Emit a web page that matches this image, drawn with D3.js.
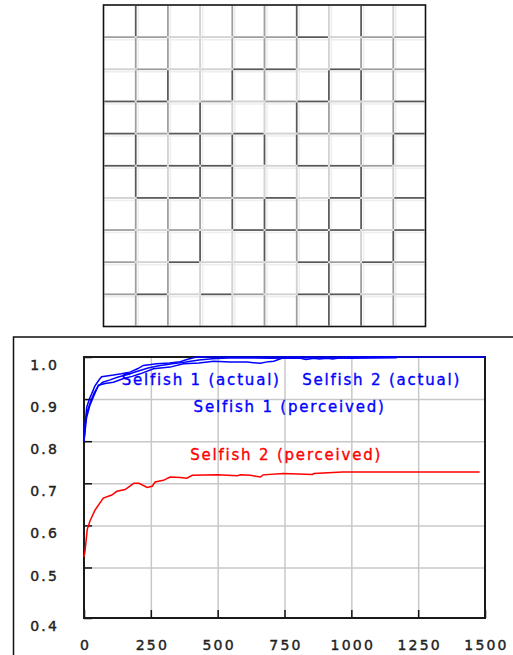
<!DOCTYPE html>
<html>
<head>
<meta charset="utf-8">
<script src="https://cdn.jsdelivr.net/npm/d3@7"></script>
<style>
	body { margin: 0; background: #fff; }
	svg { display: block; }
</style>
</head>
<body>
<script>
// DATA
// shade of each cell wall in the top panel: 1 light, 2 mid, 3 dark
const verticalWalls = [
	[3, 2, 1, 2, 2, 3, 1, 3, 1],
	[2, 2, 1, 2, 2, 2, 1, 2, 2],
	[2, 3, 1, 3, 2, 1, 3, 3, 2],
	[2, 2, 3, 1, 1, 3, 2, 2, 2],
	[3, 1, 3, 3, 3, 3, 1, 2, 3],
	[3, 1, 3, 3, 1, 1, 1, 3, 1],
	[2, 2, 2, 3, 3, 2, 3, 3, 2],
	[2, 2, 3, 1, 3, 2, 3, 1, 3],
	[2, 2, 1, 1, 2, 1, 3, 2, 2],
	[2, 2, 1, 1, 2, 2, 3, 3, 2]
];
const horizontalWalls = [
	[2, 2, 1, 1, 2, 2, 3, 1, 2, 2],
	[1, 2, 1, 1, 3, 3, 1, 3, 2, 2],
	[3, 3, 1, 2, 1, 2, 3, 1, 1, 3],
	[3, 2, 3, 2, 3, 1, 2, 2, 1, 3],
	[3, 3, 3, 3, 1, 1, 3, 3, 2, 1],
	[1, 3, 3, 2, 2, 3, 1, 3, 1, 3],
	[2, 1, 2, 1, 3, 3, 3, 3, 1, 3],
	[2, 1, 3, 1, 1, 1, 3, 2, 3, 2],
	[2, 3, 1, 3, 2, 1, 3, 3, 1, 1]
];

const xTicks = [0, 250, 500, 750, 1000, 1250, 1500];
const yTicks = [0.38, 0.5, 0.6, 0.7, 0.8, 0.9, 1.0];

const s1ActualT = [0, 3, 10, 20, 29, 40, 47, 58, 66, 85, 110, 140, 172, 200, 222, 250, 272, 320, 360, 385, 420, 600, 800, 1000, 1170];
const s1ActualV = [0.80, 0.83, 0.88, 0.90, 0.913, 0.93, 0.937, 0.947, 0.953, 0.955, 0.957, 0.96, 0.964, 0.972, 0.98, 0.982, 0.984, 0.986, 0.989, 0.994, 1.0, 1.0, 1.0, 1.0, 1.0];

const s1PerceivedT = [0, 4, 12, 25, 38, 52, 70, 95, 125, 160, 200, 240, 280, 330, 380, 430, 480, 560, 700, 850, 1000, 1170];
const s1PerceivedV = [0.80, 0.84, 0.87, 0.895, 0.915, 0.93, 0.94, 0.945, 0.952, 0.958, 0.966, 0.974, 0.979, 0.984, 0.988, 0.993, 0.996, 0.998, 0.997, 0.998, 0.997, 0.998];

const s2ActualT = [0, 5, 10, 22, 35, 54, 79, 110, 148, 180, 210, 260, 322, 372, 430, 485, 547, 610, 660, 690, 710, 740, 810, 830, 860, 880, 910, 930, 960, 1000, 1170, 1500];
const s2ActualV = [0.80, 0.83, 0.857, 0.885, 0.905, 0.933, 0.937, 0.94, 0.949, 0.954, 0.96, 0.972, 0.976, 0.984, 0.986, 0.99, 0.988, 0.988, 0.985, 0.989, 0.99, 0.997, 0.997, 0.994, 0.997, 0.995, 0.997, 0.995, 0.998, 1.0, 1.0, 1.0];

const s2PerceivedT = [0, 4, 12, 22, 41, 72, 104, 123, 154, 186, 206, 236, 255, 266, 297, 322, 360, 385, 405, 500, 574, 585, 622, 660, 670, 745, 855, 860, 967, 1480];
const s2PerceivedV = [0.525, 0.54, 0.59, 0.61, 0.636, 0.665, 0.672, 0.681, 0.685, 0.70, 0.70, 0.69, 0.693, 0.703, 0.707, 0.715, 0.714, 0.712, 0.719, 0.72, 0.718, 0.72, 0.719, 0.715, 0.72, 0.723, 0.721, 0.723, 0.727, 0.727];

const seriesNames = ['Selfish 1 (actual)', 'Selfish 2 (actual)', 'Selfish 1 (perceived)', 'Selfish 2 (perceived)'];

// SVG
const width = 513;
const height = 655;
const svg = d3.select('body')
	.append('svg')
	.attr('width', width)
	.attr('height', height);

// TOP PANEL
const gx = d3.scaleLinear().domain([0, 10]).range([103.5, 425.5]);
const gy = d3.scaleLinear().domain([0, 10]).range([5, 326.5]);
const shade = { 1: '#d2d2d2', 2: '#9e9e9e', 3: '#585858' };
const grid = svg.append('g');

// faint doubled base lines
[0, 2.5].forEach(function(off) {
	grid.selectAll(null)
		.data(d3.range(1, 10))
		.enter()
		.append('line')
		.attr('x1', d => gx(d) + off).attr('x2', d => gx(d) + off)
		.attr('y1', gy(0)).attr('y2', gy(10))
		.attr('stroke', off ? '#eeeeee' : '#e0e0e0')
		.attr('stroke-width', 1.5);
	grid.selectAll(null)
		.data(d3.range(1, 10))
		.enter()
		.append('line')
		.attr('y1', d => gy(d) + off).attr('y2', d => gy(d) + off)
		.attr('x1', gx(0)).attr('x2', gx(10))
		.attr('stroke', off ? '#eeeeee' : '#e0e0e0')
		.attr('stroke-width', 1.5);
});

const vList = [];
verticalWalls.forEach((row, r) => row.forEach((s, c) => vList.push({ r: r, c: c + 1, s: s })));
const hList = [];
horizontalWalls.forEach((row, r) => row.forEach((s, c) => hList.push({ r: r + 1, c: c, s: s })));
vList.sort((a, b) => a.s - b.s);
hList.sort((a, b) => a.s - b.s);

grid.selectAll('.vw')
	.data(vList)
	.enter()
	.append('line')
	.attr('class', 'vw')
	.attr('x1', d => gx(d.c)).attr('x2', d => gx(d.c))
	.attr('y1', d => gy(d.r) + 1).attr('y2', d => gy(d.r + 1) - 1)
	.attr('stroke', d => shade[d.s])
	.attr('stroke-width', 1.7);
grid.selectAll('.hw')
	.data(hList)
	.enter()
	.append('line')
	.attr('class', 'hw')
	.attr('y1', d => gy(d.r)).attr('y2', d => gy(d.r))
	.attr('x1', d => gx(d.c) + 1).attr('x2', d => gx(d.c + 1) - 1)
	.attr('stroke', d => shade[d.s])
	.attr('stroke-width', 1.7);

grid.append('rect')
	.attr('x', gx(0)).attr('y', gy(0))
	.attr('width', gx(10) - gx(0)).attr('height', gy(10) - gy(0))
	.attr('fill', 'none')
	.attr('stroke', '#111')
	.attr('stroke-width', 1.6);

// BOTTOM PANEL FRAME
svg.append('rect')
	.attr('x', 13.5).attr('y', 337)
	.attr('width', 520).attr('height', 340)
	.attr('fill', 'none')
	.attr('stroke', '#111')
	.attr('stroke-width', 1.5);

// SCALES
const plotLeft = 84, plotRight = 485, plotTop = 357, plotBottom = 618;
const xScale = d3.scaleLinear().domain([0, 1500]).range([plotLeft, plotRight]);
const yScale = d3.scaleLinear().domain([0.38, 1.0]).range([plotBottom, plotTop]);

// GRID
svg.append('g')
	.attr('transform', `translate(0, ${plotBottom})`)
	.call(d3.axisBottom(xScale).tickValues(xTicks.slice(1, -1)).tickSize(-(plotBottom - plotTop)).tickFormat(''))
	.call(g => g.select('.domain').remove())
	.call(g => g.selectAll('line').attr('stroke', '#c8c8c8').attr('stroke-width', 1.5));
svg.append('g')
	.attr('transform', `translate(${plotLeft}, 0)`)
	.call(d3.axisLeft(yScale).tickValues(yTicks.slice(1, -1)).tickSize(-(plotRight - plotLeft)).tickFormat(''))
	.call(g => g.select('.domain').remove())
	.call(g => g.selectAll('line').attr('stroke', '#c8c8c8').attr('stroke-width', 1.5));

// AXES
const xAxis = svg.append('g')
	.attr('transform', `translate(0, ${plotBottom})`)
	.call(d3.axisBottom(xScale).tickValues(xTicks).tickSize(-8).tickPadding(22).tickSizeOuter(0).tickFormat(d3.format('d')));
const yAxis = svg.append('g')
	.attr('transform', `translate(${plotLeft}, 0)`)
	.call(d3.axisLeft(yScale).tickValues(yTicks).tickSize(-8).tickPadding(25).tickSizeOuter(0).tickFormat(d3.format('.1f')));
[xAxis, yAxis].forEach(function(ax) {
	ax.select('.domain').remove();
	ax.selectAll('line').attr('stroke', '#111').attr('stroke-width', 1.5);
	ax.selectAll('text')
		.attr('fill', '#222')
		.attr('stroke', '#222')
		.attr('stroke-width', 0.4)
		.style('font-family', 'DejaVu Sans, sans-serif')
		.style('font-size', '14px')
		.style('letter-spacing', '2.2px');
});
yAxis.selectAll('text').attr('dy', '0.9em');
xAxis.selectAll('text').attr('dx', '1px');

// PLOT BORDER
svg.append('rect')
	.attr('x', plotLeft).attr('y', plotTop)
	.attr('width', plotRight - plotLeft).attr('height', plotBottom - plotTop)
	.attr('fill', 'none')
	.attr('stroke', '#1a1a1a')
	.attr('stroke-width', 2);

// LINES
const line = d3.line()
	.x(d => xScale(d[0]))
	.y(d => yScale(d[1]));
const series = [
	{ t: s2PerceivedT, v: s2PerceivedV, color: '#ff0000' },
	{ t: s2ActualT, v: s2ActualV, color: '#0000ff' },
	{ t: s1PerceivedT, v: s1PerceivedV, color: '#0000ff' },
	{ t: s1ActualT, v: s1ActualV, color: '#0000ff' }
];
svg.selectAll('.series')
	.data(series)
	.enter()
	.append('path')
	.attr('class', 'series')
	.attr('d', s => line(d3.zip(s.t, s.v)))
	.attr('fill', 'none')
	.attr('stroke', s => s.color)
	.attr('stroke-width', 1.5);

// SERIES LABELS
const labelAt = [[141, 0.933], [816, 0.933], [410, 0.869], [397, 0.755]];
svg.selectAll('.label')
	.data(seriesNames)
	.enter()
	.append('text')
	.attr('class', 'label')
	.attr('x', (d, i) => xScale(labelAt[i][0]))
	.attr('y', (d, i) => yScale(labelAt[i][1]))
	.attr('fill', (d, i) => i === 3 ? '#ff0000' : '#0000ff')
	.attr('stroke', (d, i) => i === 3 ? '#ff0000' : '#0000ff')
	.attr('stroke-width', 0.35)
	.style('font-family', 'DejaVu Sans, sans-serif')
	.style('font-size', '15px')
	.style('letter-spacing', '1.8px')
	.text(d => d);
</script>
</body>
</html>
